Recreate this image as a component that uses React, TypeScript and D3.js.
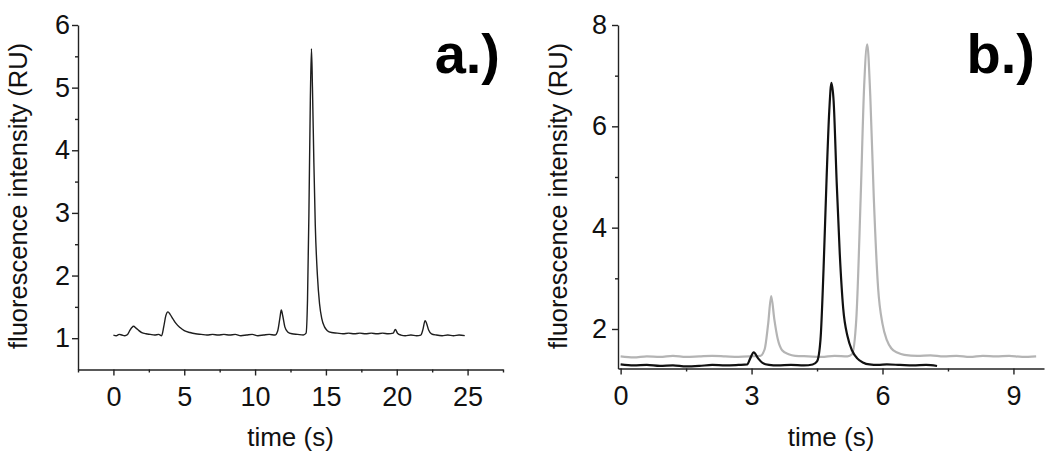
import React, { useEffect, useRef } from 'react'
import * as d3 from 'd3'

// panel a.) single trace
const timeA = [0, 0.2, 0.4, 0.6, 0.8, 1.0, 1.15, 1.3, 1.42, 1.6, 1.8, 2.0, 2.3, 2.6, 2.9, 3.2, 3.4, 3.55, 3.7, 3.85, 4.0, 4.2, 4.4, 4.7, 5.0, 5.4, 5.8, 6.2, 6.6, 7.0, 7.4, 7.8, 8.2, 8.6, 9.0, 9.4, 9.8, 10.2, 10.6, 11.0, 11.4, 11.6, 11.75, 11.85, 11.95, 12.1, 12.3, 12.6, 13.0, 13.4, 13.6, 13.7, 13.8, 13.9, 13.98, 14.05, 14.15, 14.25, 14.4, 14.55, 14.7, 14.9, 15.1, 15.4, 15.8, 16.2, 16.6, 17.0, 17.4, 17.8, 18.2, 18.6, 19.0, 19.4, 19.75, 19.9, 20.05, 20.3, 20.6, 21.0, 21.4, 21.7, 21.85, 22.0, 22.1, 22.25, 22.45, 22.8, 23.2, 23.6, 24.0, 24.4, 24.8]
const signalA = [1.05, 1.04, 1.06, 1.05, 1.04, 1.06, 1.12, 1.17, 1.19, 1.16, 1.12, 1.09, 1.07, 1.06, 1.05, 1.06, 1.04, 1.18, 1.36, 1.42, 1.38, 1.31, 1.24, 1.17, 1.12, 1.09, 1.07, 1.06, 1.05, 1.06, 1.05, 1.06, 1.05, 1.06, 1.04, 1.05, 1.06, 1.04, 1.05, 1.06, 1.05, 1.12, 1.32, 1.45, 1.36, 1.18, 1.1, 1.07, 1.06, 1.05, 1.08, 1.6, 3.0, 4.8, 5.62, 5.0, 3.8, 2.8, 2.0, 1.55, 1.32, 1.18, 1.12, 1.09, 1.08, 1.07, 1.08, 1.07, 1.08, 1.07, 1.08, 1.07, 1.08, 1.07, 1.08, 1.14, 1.08, 1.05, 1.04, 1.05, 1.04, 1.05, 1.14, 1.28, 1.24, 1.13, 1.07, 1.05, 1.04, 1.05, 1.04, 1.05, 1.04]

// panel b.) grey trace
const timeGrey = [0, 0.3, 0.6, 0.9, 1.2, 1.5, 1.8, 2.1, 2.4, 2.7, 3.0, 3.2, 3.3, 3.38, 3.45, 3.52, 3.6, 3.7, 3.85, 4.0, 4.3, 4.6, 4.9, 5.2, 5.3, 5.4, 5.5, 5.58, 5.65, 5.72, 5.8, 5.9, 6.0, 6.1, 6.2, 6.35, 6.5, 6.8, 7.1, 7.4, 7.7, 8.0, 8.3, 8.6, 8.9, 9.2, 9.52]
const signalGrey = [1.46, 1.44, 1.46, 1.45, 1.47, 1.45, 1.46, 1.47, 1.46, 1.45, 1.46, 1.47, 1.6, 2.1, 2.65, 2.2, 1.8, 1.58, 1.5, 1.47, 1.46, 1.45, 1.47, 1.46, 1.5, 2.2, 4.6, 6.8, 7.62, 6.6, 4.6, 2.8, 2.1, 1.78, 1.62, 1.53, 1.49, 1.47, 1.48, 1.46, 1.47, 1.45, 1.47, 1.46, 1.47, 1.45, 1.46]

// panel b.) black trace
const timeBlack = [0, 0.3, 0.6, 0.9, 1.2, 1.5, 1.8, 2.1, 2.4, 2.7, 2.9, 2.97, 3.05, 3.15, 3.25, 3.4, 3.6, 3.9, 4.2, 4.4, 4.5, 4.58, 4.65, 4.72, 4.78, 4.83, 4.88, 4.95, 5.02, 5.1, 5.2, 5.3, 5.42, 5.55, 5.7, 5.9, 6.1, 6.4, 6.7, 7.0, 7.25]
const signalBlack = [1.3, 1.28, 1.29, 1.27, 1.28, 1.26, 1.27, 1.29, 1.28, 1.29, 1.3, 1.42, 1.54, 1.42, 1.33, 1.29, 1.28, 1.29, 1.28, 1.3, 1.36, 1.8, 3.2, 5.0, 6.3, 6.86, 6.5, 4.9, 3.5, 2.4, 1.85, 1.58, 1.42, 1.34, 1.3, 1.29, 1.3, 1.29, 1.28, 1.29, 1.27]

const ticksAx = [0, 5, 10, 15, 20, 25]
const minorAx = [-2.5, 2.5, 7.5, 12.5, 17.5, 22.5, 27.5]
const ticksAy = [1, 2, 3, 4, 5, 6]
const minorAy = [1.5, 2.5, 3.5, 4.5, 5.5]
const ticksBx = [0, 3, 6, 9]
const minorBx = [1.5, 4.5, 7.5]
const ticksBy = [2, 4, 6, 8]
const minorBy = [3, 5, 7]

const FONT = '"Liberation Sans", Arial, sans-serif'

export default function App() {
  const ref = useRef<SVGSVGElement>(null)

  useEffect(() => {
    const svg = d3.select(ref.current)
    svg.selectAll('*').remove()

    const panels = [
      {
        x: d3.scaleLinear().domain([-2.5, 27.5]).range([78, 503]),
        y: d3.scaleLinear().domain([0.5, 6]).range([369.5, 25]),
        tx: ticksAx, mx: minorAx, ty: ticksAy, my: minorAy,
        series: [{ t: timeA, v: signalA, color: '#1e1e1e', w: 1.4 }],
        tag: 'a.)', tagX: 500, labelX: 27, padY: 2,
      },
      {
        x: d3.scaleLinear().domain([-0.06, 9.7]).range([618, 1044]),
        y: d3.scaleLinear().domain([1.22, 8]).range([368.5, 25]),
        tx: ticksBx, mx: minorBx, ty: ticksBy, my: minorBy,
        series: [
          { t: timeGrey, v: signalGrey, color: '#b4b4b4', w: 2.2 },
          { t: timeBlack, v: signalBlack, color: '#111', w: 2.2 },
        ],
        tag: 'b.)', tagX: 1035, labelX: 567, padY: 5,
      },
    ]

    panels.forEach((p) => {
      const g = svg.append('g')
      const [y0] = p.y.range()
      const [x0, x1] = p.x.range()

      p.series.forEach((s) => {
        const pts = s.t.map((t, i) => [t, s.v[i]] as [number, number])
        g.append('path')
          .datum(pts)
          .attr('fill', 'none')
          .attr('stroke', s.color)
          .attr('stroke-width', s.w)
          .attr('stroke-linejoin', 'round')
          .attr('d', d3.line().x((d) => p.x(d[0])).y((d) => p.y(d[1])).curve(d3.curveMonotoneX))
      })

      const styleAxis = (sel: any) => {
        sel.select('.domain').attr('stroke', '#222').attr('stroke-width', 1.4)
        sel.selectAll('.tick line').attr('stroke', '#222').attr('stroke-width', 1.4)
        sel.selectAll('text').attr('font-family', FONT).attr('font-size', 27).attr('fill', '#111')
      }

      g.append('g')
        .attr('transform', `translate(0,${y0})`)
        .call(d3.axisBottom(p.x).tickValues(p.mx).tickSize(3).tickSizeOuter(0).tickFormat(() => ''))
        .call(styleAxis)
      g.append('g')
        .attr('transform', `translate(0,${y0})`)
        .call(d3.axisBottom(p.x).tickValues(p.tx).tickSize(6).tickSizeOuter(0).tickPadding(11).tickFormat(d3.format('d')))
        .call(styleAxis)
        .call((a: any) => a.select('.domain').remove())

      g.append('g')
        .attr('transform', `translate(${x0},0)`)
        .call(d3.axisLeft(p.y).tickValues(p.my).tickSize(3).tickSizeOuter(0).tickFormat(() => ''))
        .call(styleAxis)
      g.append('g')
        .attr('transform', `translate(${x0},0)`)
        .call(d3.axisLeft(p.y).tickValues(p.ty).tickSize(6).tickSizeOuter(0).tickPadding(p.padY).tickFormat(d3.format('d')))
        .call(styleAxis)
        .call((a: any) => a.select('.domain').remove())

      g.append('text')
        .attr('x', (x0 + x1) / 2)
        .attr('y', 446)
        .attr('text-anchor', 'middle')
        .attr('font-family', FONT)
        .attr('font-size', 26)
        .attr('fill', '#111')
        .text('time (s)')

      g.append('text')
        .attr('transform', `translate(${p.labelX},196) rotate(-90)`)
        .attr('text-anchor', 'middle')
        .attr('font-family', FONT)
        .attr('font-size', 25.5)
        .attr('fill', '#111')
        .text('fluorescence intensity (RU)')

      g.append('text')
        .attr('x', p.tagX)
        .attr('y', 73)
        .attr('text-anchor', 'end')
        .attr('font-family', FONT)
        .attr('font-size', 56)
        .attr('font-weight', 'bold')
        .attr('fill', '#000')
        .text(p.tag)
    })
  }, [])

  return (
    <svg
      ref={ref}
      width={1050}
      height={460}
      style={{ position: 'absolute', left: 0, top: 0, background: '#fff' }}
    />
  )
}
